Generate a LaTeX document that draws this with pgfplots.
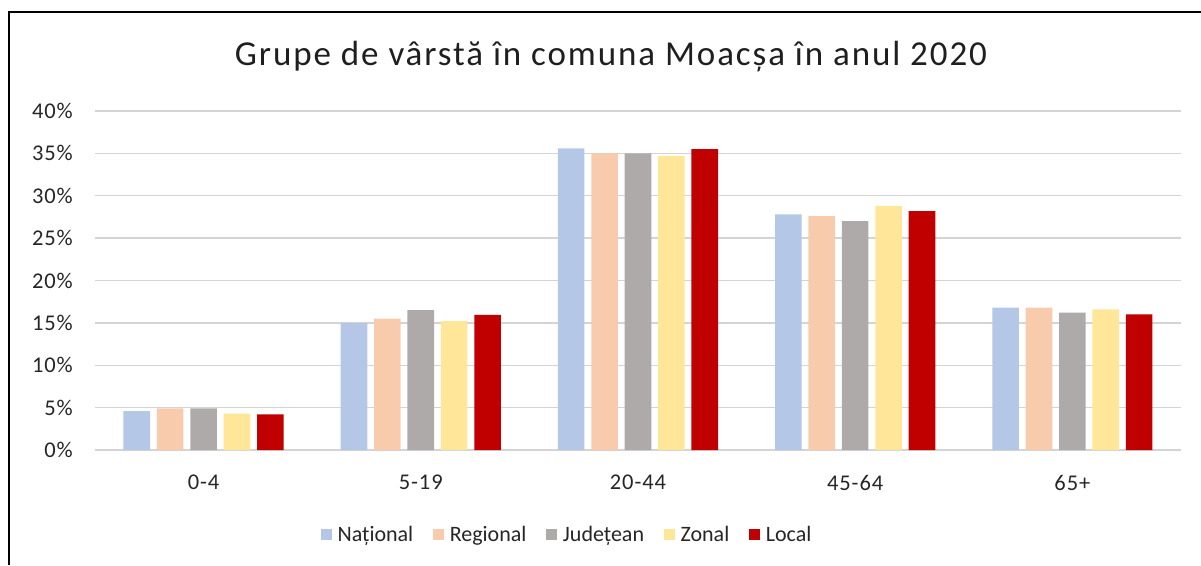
\documentclass[border=0pt]{standalone}
\usepackage{fontspec}
\setmainfont{Carlito}
\newfontfamily\titlefont[LetterSpace=5.5]{Carlito}
\newfontfamily\tickfont[LetterSpace=4]{Carlito}
\usepackage{pgfplots}
\pgfplotsset{compat=1.18}
\definecolor{cNat}{HTML}{B4C7E7}
\definecolor{cReg}{HTML}{F8CBAD}
\definecolor{cJud}{HTML}{AEAAAA}
\definecolor{cZon}{HTML}{FFE699}
\definecolor{cLoc}{HTML}{C00000}
\definecolor{gridc}{HTML}{D4D4D4}
\begin{document}
\begin{tikzpicture}[x=1pt,y=1pt]
\path[use as bounding box] (0,0) rectangle (1201,565);
\draw[line width=1.6pt,black] (9,0) -- (9,553) -- (1201,553);
\node[font=\titlefont\fontsize{35}{40}\selectfont, text=black!88] at (611,508) {Grupe de vârstă în comuna Moacșa în anul 2020};
\begin{axis}[
  at={(95pt,115pt)}, anchor=south west,
  scale only axis, width=1086pt, height=339pt,
  xmin=-0.5, xmax=4.5, ymin=0, ymax=40,
  ybar=6.8pt, bar width=26.6pt,
  axis line style={draw=none},
  major tick length=0pt,
  ymajorgrids, grid style={gridc, line width=1.4pt},
  ytick={0,5,...,40},
  yticklabels={0\%,5\%,10\%,15\%,20\%,25\%,30\%,35\%,40\%},
  xtick={0,1,2,3,4},
  xticklabels={0-4,5-19,20-44,45-64,65+},
  tick label style={font=\tickfont\fontsize{22.5}{26}\selectfont, text=black!85},
  yticklabel style={inner sep=0pt, xshift=-22pt},
  xticklabel style={inner sep=0pt, yshift=-25pt},
  legend columns=5,
  legend style={at={(0.4337,-0.2507)}, anchor=center, draw=none,
    font=\fontsize{22}{26}\selectfont, text=black!85,
    nodes={inner sep=0pt},
    /tikz/every odd column/.append style={column sep=6pt},
    /tikz/every even column/.append style={column sep=19.5pt}},
  legend image code/.code={\fill[#1,draw=none] (0pt,-5.5pt) rectangle (11pt,5.5pt);},
]
\addplot[fill=cNat, draw=none] coordinates {(0,4.6) (1,15.0) (2,35.6) (3,27.8) (4,16.8)};
\addplot[fill=cReg, draw=none] coordinates {(0,4.9) (1,15.5) (2,35.0) (3,27.6) (4,16.8)};
\addplot[fill=cJud, draw=none] coordinates {(0,4.9) (1,16.5) (2,35.0) (3,27.0) (4,16.2)};
\addplot[fill=cZon, draw=none] coordinates {(0,4.3) (1,15.2) (2,34.7) (3,28.8) (4,16.6)};
\addplot[fill=cLoc, draw=none] coordinates {(0,4.2) (1,15.95) (2,35.5) (3,28.2) (4,16.0)};
\legend{Național,Regional,Județean,Zonal,Local}
\end{axis}
\end{tikzpicture}
\end{document}
